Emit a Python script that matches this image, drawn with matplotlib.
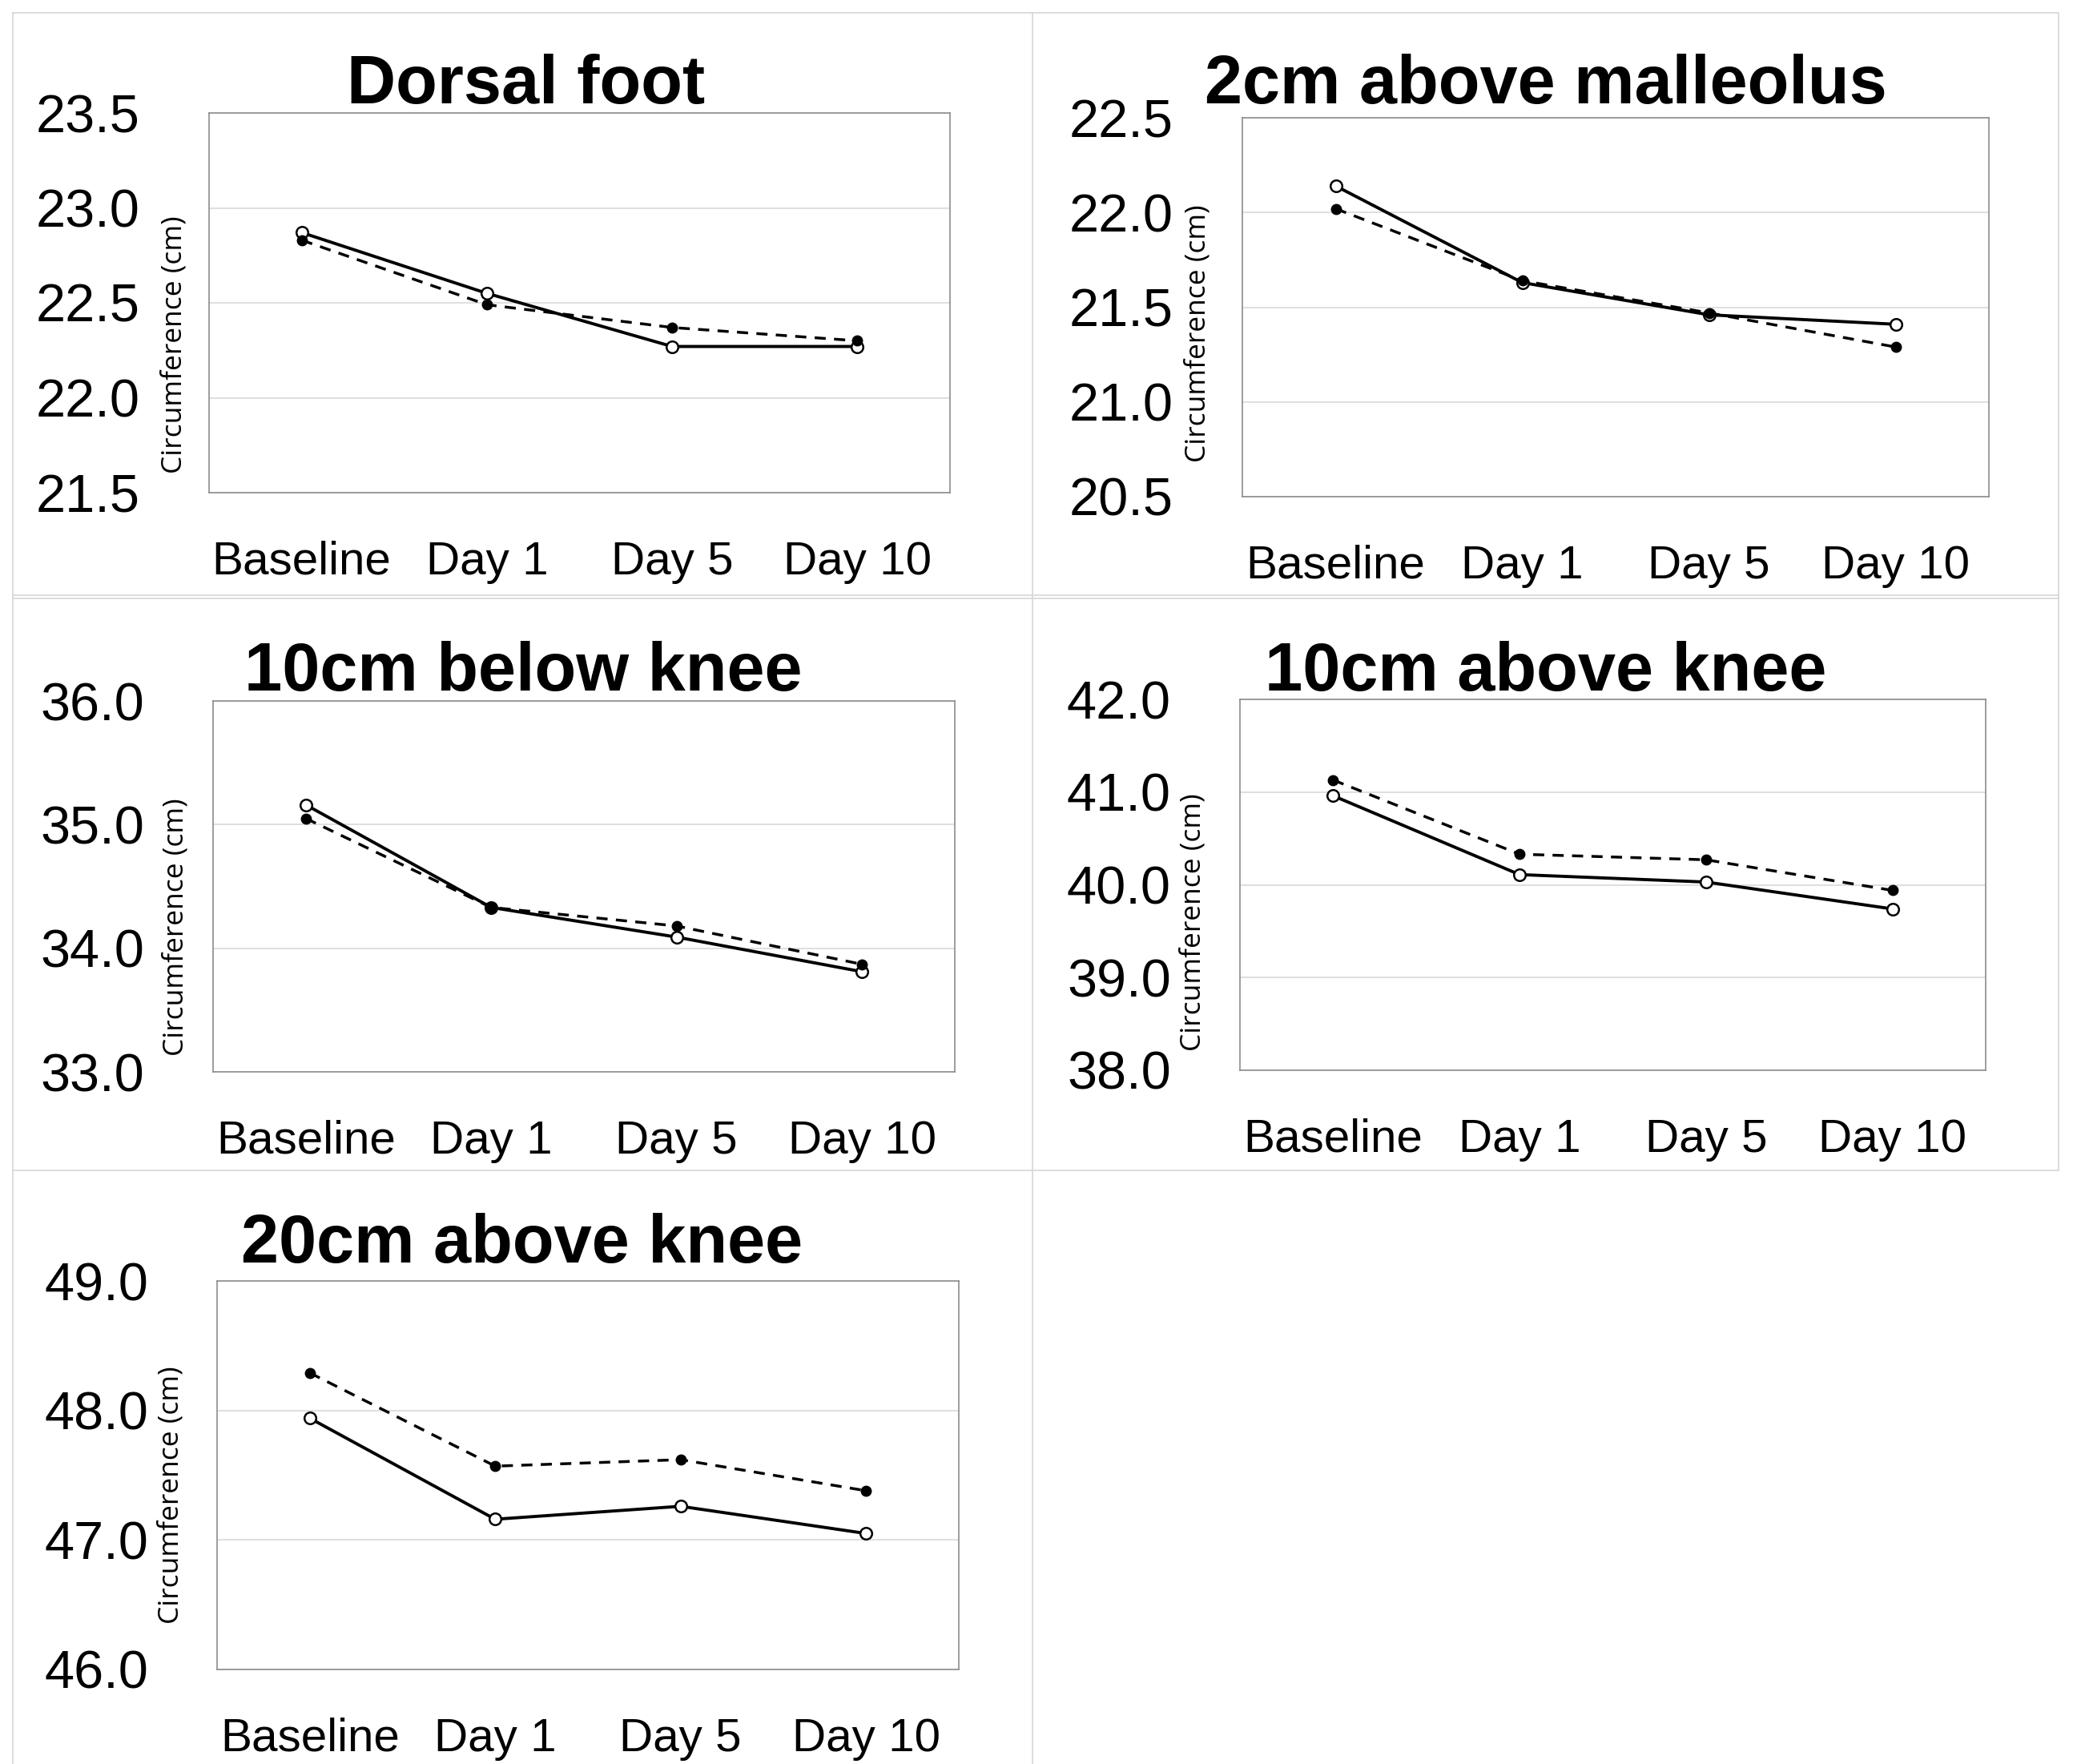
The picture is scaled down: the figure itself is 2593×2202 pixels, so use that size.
import matplotlib
matplotlib.use("Agg")
import matplotlib.pyplot as plt
from matplotlib.lines import Line2D

plt.rcParams['font.family'] = ['Liberation Sans', 'DejaVu Sans']

# データ
categories = ['Baseline', 'Day 1', 'Day 5', 'Day 10']
titles = ['Dorsal foot', '2cm above malleolus', '10cm below knee',
          '10cm above knee', '20cm above knee']

dorsal_open = [22.87, 22.55, 22.27, 22.27]
dorsal_filled = [22.83, 22.49, 22.37, 22.30]
malleolus_open = [22.14, 21.63, 21.46, 21.41]
malleolus_filled = [22.02, 21.64, 21.47, 21.29]
below_knee_open = [35.16, 34.33, 34.09, 33.81]
below_knee_filled = [35.05, 34.33, 34.18, 33.87]
above10_open = [40.96, 40.11, 40.03, 39.74]
above10_filled = [41.13, 40.33, 40.27, 39.94]
above20_open = [47.94, 47.16, 47.26, 47.05]
above20_filled = [48.29, 47.57, 47.62, 47.38]

y_ranges = [(21.5, 23.5, 0.5), (20.5, 22.5, 0.5), (33.0, 36.0, 1.0),
            (38.0, 42.0, 1.0), (46.0, 49.0, 1.0)]

open_series = [dorsal_open, malleolus_open, below_knee_open, above10_open, above20_open]
filled_series = [dorsal_filled, malleolus_filled, below_knee_filled, above10_filled, above20_filled]

# レイアウト (ピクセル)
W, H = 2593, 2202
axes_px = [(261, 141, 1186, 615), (1551, 147, 2483, 620), (266, 875, 1192, 1338),
           (1548, 873, 2479, 1336), (271, 1599, 1197, 2084)]
title_px = [(657, 129), (1930, 129), (653, 862), (1930, 862), (652, 1576)]
ylabel_px = [(-44, 0.39), (-56, 0.43), (-46, 0.39), (-58, 0.40), (-58, 0.45)]

fig = plt.figure(figsize=(W / 100, H / 100), dpi=100)


def px_line(x0, y0, x1, y1):
    fig.add_artist(Line2D([x0 / W, x1 / W], [1 - y0 / H, 1 - y1 / H],
                          transform=fig.transFigure, color='#d9d9d9', lw=1.3))


# セルの枠線
px_line(16, 16, 2570, 16)
px_line(16, 16, 16, H)
px_line(1289, 16, 1289, H)
px_line(2570, 16, 2570, 1461)
px_line(16, 743, 2570, 743)
px_line(16, 747, 2570, 747)
px_line(16, 1461, 2570, 1461)

for i in range(5):
    x0, y0, x1, y1 = axes_px[i]
    ax = fig.add_axes([x0 / W, 1 - y1 / H, (x1 - x0) / W, (y1 - y0) / H])
    lo, hi, step = y_ranges[i]
    xs = list(range(len(categories)))

    ax.plot(xs, open_series[i], color='black', lw=2.8, marker='o', ms=10.5,
            mfc='white', mec='black', mew=1.8, zorder=3)
    ax.plot(xs, filled_series[i], color='black', lw=2.5, ls=(0, (4, 3)),
            marker='o', ms=9, mfc='black', mec='black', zorder=4)

    ax.set_xlim(-0.5, 3.5)
    ax.set_ylim(lo, hi)
    n = int(round((hi - lo) / step))
    ticks = [lo + step * k for k in range(n + 1)]
    ax.set_yticks(ticks)
    ax.set_yticklabels([f'{t:.1f}' for t in ticks])
    ax.set_xticks(xs)
    ax.set_xticklabels(categories)
    ax.tick_params(axis='y', length=0, pad=62, labelsize=48)
    ax.tick_params(axis='x', length=0, pad=43, labelsize=42)
    ax.grid(axis='y', color='#d9d9d9', lw=1.2)
    ax.set_axisbelow(True)
    for s in ax.spines.values():
        s.set_color('#8c8c8c')
        s.set_linewidth(1.2)

    dx, fy = ylabel_px[i]
    ax.text(dx / (x1 - x0), fy, 'Circumference (cm)', transform=ax.transAxes,
            rotation=90, ha='center', va='center', fontsize=25.5,
            family=['Open Sans', 'DejaVu Sans'])

    tx, ty = title_px[i]
    fig.text(tx / W, 1 - ty / H, titles[i], ha='center', va='baseline',
             fontsize=61, fontweight='bold')

fig.savefig('out.png', dpi=100)
